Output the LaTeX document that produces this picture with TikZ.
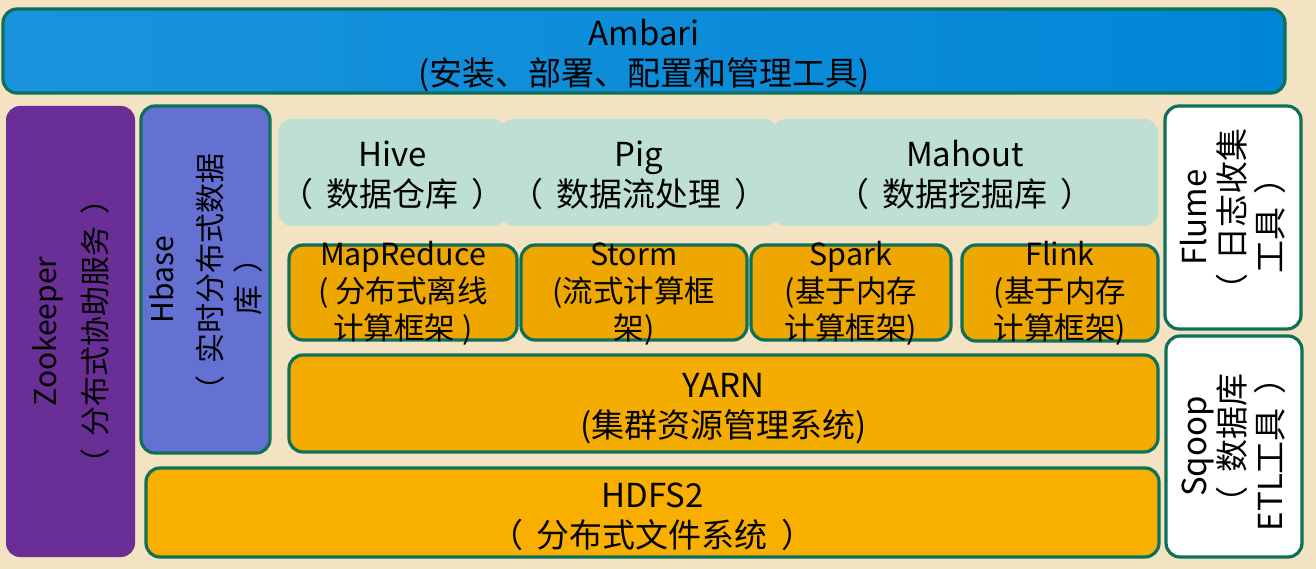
\documentclass[tikz,border=0pt]{standalone}
\usepackage{fontspec}
\setmainfont{Noto Sans CJK SC}
\newcommand{\lpar}{（\hspace{0.4em}}
\newcommand{\rpar}{\hspace{0.4em}）}
\newcommand{\tpad}[1]{\rule{0pt}{#1}}
\newcommand{\mtext}[1]{\raisebox{-17pt}{\smash{\begin{tabular}{@{}c@{}}#1\end{tabular}}}}
\definecolor{bgc}{HTML}{F3E3C3}
\definecolor{teal0}{HTML}{0E7058}
\definecolor{ambL}{HTML}{1A93DC}
\definecolor{ambR}{HTML}{0086D6}
\definecolor{purp}{HTML}{6A2F97}
\definecolor{hbc}{HTML}{6470D2}
\definecolor{lteal}{HTML}{BEDFD3}
\definecolor{orgS}{HTML}{EEA600}
\definecolor{orgY}{HTML}{F5AC00}
\definecolor{orgH}{HTML}{F9AF00}
\begin{document}
\begin{tikzpicture}[x=1pt,y=-1pt,
  box/.style={rectangle, rounded corners=14pt, align=center, inner sep=0pt, text=black},
  bd/.style={draw=teal0, line width=3.2pt},
  big/.style={font=\fontsize{33pt}{40pt}\selectfont},
  mid/.style={font=\fontsize{30.5pt}{37pt}\selectfont},
  side/.style={font=\fontsize{33pt}{38pt}\selectfont},
  vert/.style={font=\fontsize{30pt}{38pt}\selectfont}]
\fill[bgc] (0,0) rectangle (1316,569);
\useasboundingbox (0,0) rectangle (1316,569);
% Ambari
\node[box, bd, big, left color=ambL, right color=ambR, minimum width=1282pt, minimum height=84pt] (ambari) at (644,51) {\tpad{35pt}Ambari\\(安装、部署、配置和管理工具)};
% Zookeeper
\node[box, vert, fill=purp, rotate=90, minimum width=451pt, minimum height=129pt] (zoo) at (70.5,331.5) {Zookeeper\\[12pt]\lpar 分布式协助服务\rpar};
% Hbase
\node[box, bd, vert, fill=hbc, rotate=90, minimum width=347pt, minimum height=129pt] (hbase) at (205.5,279.5) {Hbase\\[10pt]\lpar 实时分布式数据\\库\rpar};
% Hive / Pig / Mahout
\node[box, big, fill=lteal, minimum width=229pt, minimum height=107pt] (hive) at (392.5,172.5) {\tpad{31pt}Hive\\\lpar 数据仓库\rpar};
\node[box, big, fill=lteal, minimum width=278pt, minimum height=107pt] (pig) at (639,172.5) {\tpad{31pt}Pig\\\lpar 数据流处理\rpar};
\node[box, big, fill=lteal, minimum width=386pt, minimum height=107pt] (mahout) at (965,172.5) {\tpad{31pt}Mahout\\\lpar 数据挖掘库\rpar};
% compute frameworks
\node[box, bd, mid, fill=orgS, minimum width=228pt, minimum height=95pt] (mr) at (403,292.5) {\mtext{MapReduce\\( 分布式离线\\计算框架 )}};
\node[box, bd, mid, fill=orgS, minimum width=226pt, minimum height=95pt] (storm) at (634,292.5) {\mtext{Storm\\(流式计算框\\架)}};
\node[box, bd, mid, fill=orgS, minimum width=200pt, minimum height=95pt] (spark) at (851,292.5) {\mtext{Spark\\(基于内存\\计算框架)}};
\node[box, bd, mid, fill=orgS, minimum width=196pt, minimum height=96pt] (flink) at (1060,293) {\mtext{Flink\\(基于内存\\计算框架)}};
% YARN
\node[box, bd, big, fill=orgY, minimum width=869pt, minimum height=97pt] (yarn) at (723.5,403.5) {\tpad{34pt}YARN\\(集群资源管理系统)};
% HDFS2
\node[box, bd, big, fill=orgH, minimum width=1013pt, minimum height=89pt] (hdfs) at (652.5,512.5) {\tpad{34pt}HDFS2\\\lpar 分布式文件系统\rpar};
% Flume / Sqoop
\node[box, bd, side, fill=white, rotate=90, minimum width=223pt, minimum height=136pt] (flume) at (1233,217.5) {Flume\\\lpar 日志收集\\工具\rpar};
\node[box, bd, side, fill=white, rotate=90, minimum width=221pt, minimum height=136pt] (sqoop) at (1234,446.5) {Sqoop\\\lpar 数据库\\ETL工具\rpar};
\end{tikzpicture}
\end{document}
